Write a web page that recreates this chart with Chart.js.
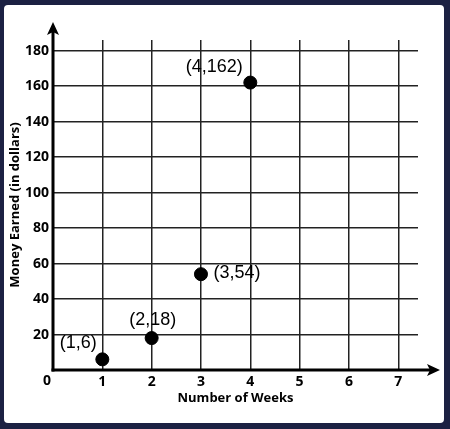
<!DOCTYPE html>
<html>
<head>
<meta charset="utf-8">
<script src="https://cdn.jsdelivr.net/npm/chart.js@4"></script>
<style>
  html, body { margin: 0; padding: 0; background: #1c2143; }
  canvas { display: block; }
</style>
</head>
<body>
<canvas id="c" width="450" height="429"></canvas>
<script>
// ---- data ----
const weeks = [1, 2, 3, 4];
const moneyEarned = [6, 18, 54, 162];
const pointLabels = ['(1,6)', '(2,18)', '(3,54)', '(4,162)'];
const xAxisTitle = 'Number of Weeks';
const yAxisTitle = 'Money Earned (in dollars)';
const originLabel = '0';

const labelPlacement = [
  { dx: -24, dy: -16 },
  { dx: 1, dy: -18 },
  { dx: 36, dy: -1 },
  { dx: -36, dy: -16 }
];

const frame = {
  id: 'frame',
  beforeDraw(chart) {
    const ctx = chart.ctx;
    ctx.save();
    ctx.fillStyle = '#1c2143';
    ctx.fillRect(0, 0, chart.width, chart.height);
    ctx.fillStyle = '#ffffff';
    ctx.beginPath();
    ctx.roundRect(4, 5, 440, 418, 4);
    ctx.fill();
    ctx.restore();
  }
};

const axesAndLabels = {
  id: 'axesAndLabels',
  afterDatasetsDraw(chart) {
    const ctx = chart.ctx;
    const xs = chart.scales.x, ys = chart.scales.y;
    const ox = xs.getPixelForValue(0), oy = ys.getPixelForValue(0);
    const ca = chart.chartArea;
    ctx.save();
    ctx.strokeStyle = '#000';
    ctx.fillStyle = '#000';
    ctx.lineWidth = 3;
    // y axis
    const yTip = ca.top - 18;
    ctx.beginPath();
    ctx.moveTo(ox, oy + 1.5);
    ctx.lineTo(ox, yTip + 8);
    ctx.stroke();
    ctx.beginPath();
    ctx.moveTo(ox, yTip);
    ctx.lineTo(ox - 6, yTip + 13);
    ctx.lineTo(ox, yTip + 10);
    ctx.lineTo(ox + 6, yTip + 13);
    ctx.closePath();
    ctx.fill();
    // x axis
    const xTip = ca.right + 22;
    ctx.beginPath();
    ctx.moveTo(ox - 1.5, oy);
    ctx.lineTo(xTip - 8, oy);
    ctx.stroke();
    ctx.beginPath();
    ctx.moveTo(xTip, oy);
    ctx.lineTo(xTip - 13, oy - 6);
    ctx.lineTo(xTip - 10, oy);
    ctx.lineTo(xTip - 13, oy + 6);
    ctx.closePath();
    ctx.fill();
    // origin label
    ctx.font = '700 14px "Open Sans"';
    ctx.textAlign = 'center';
    ctx.textBaseline = 'middle';
    ctx.fillText(originLabel, ox - 6, oy + 11);
    // point labels
    ctx.font = '18px "Liberation Sans", Arial';
    weeks.forEach((w, i) => {
      const px = xs.getPixelForValue(w), py = ys.getPixelForValue(moneyEarned[i]);
      const p = labelPlacement[i];
      ctx.fillText(pointLabels[i], px + p.dx, py + p.dy);
    });
    ctx.restore();
  }
};

const gridColor = c => (c.tick && c.tick.value === 0) ? 'rgba(0,0,0,0)' : '#222';

new Chart(document.getElementById('c'), {
  type: 'scatter',
  data: {
    datasets: [{
      data: weeks.map((w, i) => ({ x: w, y: moneyEarned[i] })),
      backgroundColor: '#000',
      borderColor: '#000',
      pointRadius: 6.5,
      pointHoverRadius: 6.5
    }]
  },
  options: {
    responsive: false,
    animation: false,
    layout: { padding: { left: 0, top: 40, right: 32, bottom: 0 } },
    plugins: { legend: { display: false }, tooltip: { enabled: false } },
    scales: {
      x: {
        type: 'linear',
        min: 0, max: 7.4,
        afterFit: s => { s.height = 59; },
        border: { display: false },
        grid: { color: gridColor, lineWidth: 1.5, drawTicks: false },
        ticks: {
          stepSize: 1, includeBounds: false, padding: 4,
          color: '#000', font: { family: 'Open Sans', weight: '700', size: 14 },
          callback: v => v === 0 ? '' : String(v)
        },
        title: {
          display: true, text: xAxisTitle, color: '#000',
          font: { family: 'Open Sans', weight: '700', size: 13 },
          padding: { top: 0, bottom: 23 }
        }
      },
      y: {
        type: 'linear',
        min: 0, max: 186,
        afterFit: s => { s.width = 53; },
        border: { display: false },
        grid: { color: gridColor, lineWidth: 1.5, drawTicks: false },
        ticks: {
          stepSize: 20, includeBounds: false, padding: 4,
          color: '#000', font: { family: 'Open Sans', weight: '700', size: 14 },
          callback: v => v === 0 ? '' : String(v)
        },
        title: {
          display: true, text: yAxisTitle, color: '#000',
          font: { family: 'Open Sans', weight: '700', size: 13 },
          padding: { top: 7, bottom: 0 }
        }
      }
    }
  },
  plugins: [frame, axesAndLabels]
});
</script>
</body>
</html>
